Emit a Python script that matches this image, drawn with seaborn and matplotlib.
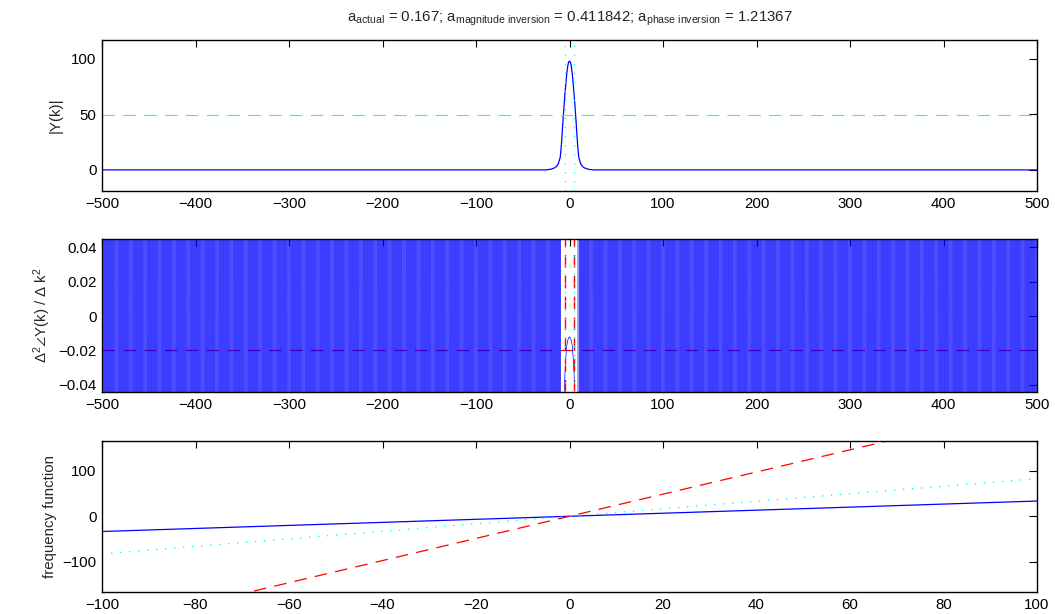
import numpy as np
import pandas as pd
import matplotlib
matplotlib.use("Agg")
import matplotlib.pyplot as plt
import seaborn as sns

# ---------------- data ----------------
a_actual = 0.167
a_mag_inv = 0.411842
a_phase_inv = 1.21367

# panel 1 : |Y(k)|
k_mag = [-500, -25, -20, -16, -14, -12, -10, -9, -8, -7, -6, -5, -4, -3, -2, -1, 0,
         1, 2, 3, 4, 5, 6, 7, 8, 9, 10, 12, 14, 16, 20, 25, 500]
mag_vals = [0, 0, 0.6, 1.8, 3, 5.5, 11, 19, 31, 44, 56, 67, 77, 86, 93, 97, 98,
            97, 93, 86, 77, 67, 56, 44, 31, 19, 11, 5.5, 3, 1.8, 0.6, 0, 0]
half_max = 49
window_edges = [-5, 5]

# panel 2 : second difference of phase
k_center = [-8, -7, -6, -5, -4, -3, -2, -1, 0, 1, 2, 3, 4, 5, 6, 7, 8, 9]
d2_center = [-0.3, -0.3, -0.05, -0.035, -0.025, -0.0175, -0.0145, -0.0128, -0.0122,
             -0.0128, -0.0145, -0.0175, -0.025, -0.035, -0.05, -0.3, -0.3, -0.3]
d2_outer = [3.0, -3.0]          # alternating off-scale values outside the peak
d2_threshold = -0.02

# panel 3 : frequency functions (end points of straight lines)
k_freq = [-100, 100]
freq_actual = [-33.4, 33.4]
freq_mag = [-82.4, 82.4]
freq_phase = [-242.7, 242.7]

# ---------------- style ----------------
sns.set_theme(style="white")
plt.rcParams["font.family"] = ["Liberation Sans", "DejaVu Sans"]
plt.rcParams["mathtext.fontset"] = "custom"
plt.rcParams["mathtext.rm"] = "Liberation Sans"
plt.rcParams["mathtext.it"] = "Liberation Sans"
plt.rcParams["mathtext.default"] = "regular"
plt.rcParams["lines.scale_dashes"] = False
FS = 10.8

fig = plt.figure(figsize=(10.55, 6.14), dpi=100)
L, W = 102 / 1055, 935 / 1055
ax1 = fig.add_axes([L, (614 - 191) / 614, W, 151 / 614])
ax2 = fig.add_axes([L, (614 - 392) / 614, W, 153 / 614])
ax3 = fig.add_axes([L, (614 - 592) / 614, W, 151 / 614])

BLUE, CYAN, RED = "#0000ff", "#00ffff", "#ff0000"
DASH = (0, (9, 6))
DOT = (0, (1, 5.5))

for ax in (ax1, ax2, ax3):
    ax.set_facecolor("white")
    for s in ax.spines.values():
        s.set_color("black")
        s.set_linewidth(1.0)
    ax.tick_params(axis="y", direction="in", right=True, length=6, width=0.8,
                   labelsize=FS, colors="black", pad=4)
    ax.tick_params(axis="x", direction="in", top=True, length=5, width=0.8,
                   labelsize=FS, colors="black", pad=4)

# ---- panel 1
df1 = pd.DataFrame({"k": k_mag, "mag": mag_vals})
sns.lineplot(data=df1, x="k", y="mag", ax=ax1, color=BLUE, lw=0.9, estimator=None)
ax1.axhline(half_max, color=CYAN, lw=0.8, ls=DASH)
for e in window_edges:
    ax1.axvline(e, color=CYAN, lw=0.9, ls=DOT)
ax1.set_xlim(-500, 500)
ax1.set_ylim(-19, 117)
ax1.set_yticks([0, 50, 100])
ax1.set_xticks(range(-500, 501, 100))
ax1.set_xlabel("")
ax1.set_ylabel("|Y(k)|", fontsize=FS, labelpad=6)
ax1.set_title(r"$a_{actual}$ = 0.167; $a_{magnitude\ inversion}$ = 0.411842; "
              r"$a_{phase\ inversion}$ = 1.21367", fontsize=FS, pad=13.5)

# ---- panel 2
k_all = np.arange(-500, 501)
d2_all = np.array([d2_outer[i % 2] for i in range(len(k_all))], dtype=float)
for kk, v in zip(k_center, d2_center):
    d2_all[kk + 500] = v
df2 = pd.DataFrame({"k": k_all, "d2": d2_all})
ax2.axhline(d2_threshold, color=RED, lw=0.9, ls=DASH, zorder=1)
sns.lineplot(data=df2, x="k", y="d2", ax=ax2, color=BLUE, lw=0.5, estimator=None,
             zorder=2)
for e in window_edges:
    ax2.axvline(e, color=RED, lw=1.0, ls=DASH, zorder=3)
    ax2.axvline(e, color=CYAN, lw=0.9, ls=DOT, zorder=3)
ax2.set_xlim(-500, 500)
ax2.set_ylim(-0.0443, 0.0449)
ax2.set_yticks([-0.04, -0.02, 0, 0.02, 0.04])
ax2.set_yticklabels(["\u22120.04", "\u22120.02", "0", "0.02", "0.04"])
ax2.set_xticks(range(-500, 501, 100))
ax2.set_xlabel("")
ax2.set_ylabel(r"$\Delta^2\angle$Y(k) / $\Delta$ k$^2$", fontsize=FS, labelpad=4)

# ---- panel 3
df3 = pd.DataFrame({"k": k_freq * 3,
                    "f": freq_actual + freq_mag + freq_phase,
                    "s": ["actual"] * 2 + ["mag"] * 2 + ["phase"] * 2})
sns.lineplot(data=df3[df3.s == "actual"], x="k", y="f", ax=ax3, color=BLUE, lw=0.9)
sns.lineplot(data=df3[df3.s == "mag"], x="k", y="f", ax=ax3, color=CYAN, lw=1.0,
             linestyle=DOT)
sns.lineplot(data=df3[df3.s == "phase"], x="k", y="f", ax=ax3, color=RED, lw=0.9,
             linestyle=DASH)
ax3.set_xlim(-100, 100)
ax3.set_ylim(-166, 165)
ax3.set_yticks([-100, 0, 100])
ax3.set_xticks(range(-100, 101, 20))
ax3.set_xlabel("")
ax3.set_ylabel("frequency function", fontsize=FS, labelpad=4)

fig.savefig("out.png", dpi=100)
